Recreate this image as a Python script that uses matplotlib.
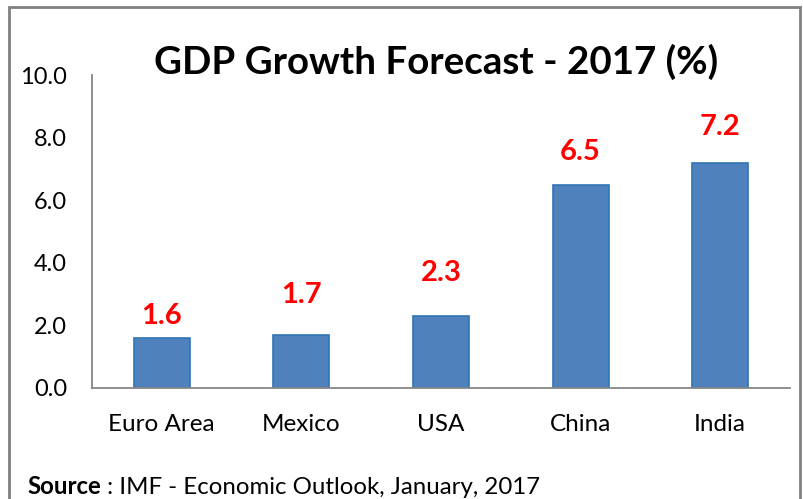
import matplotlib
matplotlib.use("Agg")
import matplotlib.pyplot as plt
from matplotlib.patches import Rectangle

categories = ["Euro Area", "Mexico", "USA", "China", "India"]
values = [1.6, 1.7, 2.3, 6.5, 7.2]
label_offsets = [0.70, 1.27, 1.37, 1.04, 1.14]
yticks = [0.0, 2.0, 4.0, 6.0, 8.0, 10.0]

plt.rcParams['font.family'] = ['Lato', 'DejaVu Sans']

fig = plt.figure(figsize=(8.04, 4.99), dpi=100)
W, H = 804, 499
ax = fig.add_axes([92 / W, 1 - 388 / H, (790 - 92) / W, (388 - 75) / H])

x = list(range(len(categories)))
ax.bar(x, values, width=0.4, color="#4F81BD", edgecolor="#2E75B6", linewidth=1.2)

for xi, v, off in zip(x, values, label_offsets):
    ax.text(xi, v + off, f"{v:.1f}", ha="center", va="center",
            color="#FF0000", fontsize=21, fontweight="bold")

ax.set_xlim(-0.5, len(categories) - 0.5)
ax.set_ylim(0, 10)
ax.set_yticks(yticks)
ax.set_yticklabels([f"{t:.1f}" for t in yticks], fontsize=17)
ax.set_xticks(x)
ax.set_xticklabels(categories, fontsize=17.5)
ax.tick_params(axis="both", length=0)
ax.tick_params(axis="y", pad=18)
ax.tick_params(axis="x", pad=19)
for s in ["top", "right"]:
    ax.spines[s].set_visible(False)
for s in ["left", "bottom"]:
    ax.spines[s].set_color("#868686")
    ax.spines[s].set_linewidth(1.3)

fig.text(436 / W, 1 - 62 / H, "GDP Growth Forecast - 2017 (%)", ha="center",
         va="center", fontsize=27.7, fontweight="bold")

t1 = fig.text(27 / W, 1 - 487 / H, "Source", ha="left", va="center",
              fontsize=17.3, fontweight="bold")
fig.canvas.draw()
bb = t1.get_window_extent()
fig.text(bb.x1 / W, 1 - 487 / H, " : IMF - Economic Outlook, January, 2017",
         ha="left", va="center", fontsize=17.3)

fig.patches.append(Rectangle((8.5 / W, -0.1), (800 - 8.5) / W, 1.1 - 7.5 / H,
                             transform=fig.transFigure, fill=False,
                             edgecolor="#808080", linewidth=2))

fig.savefig("out.png", dpi=100)
